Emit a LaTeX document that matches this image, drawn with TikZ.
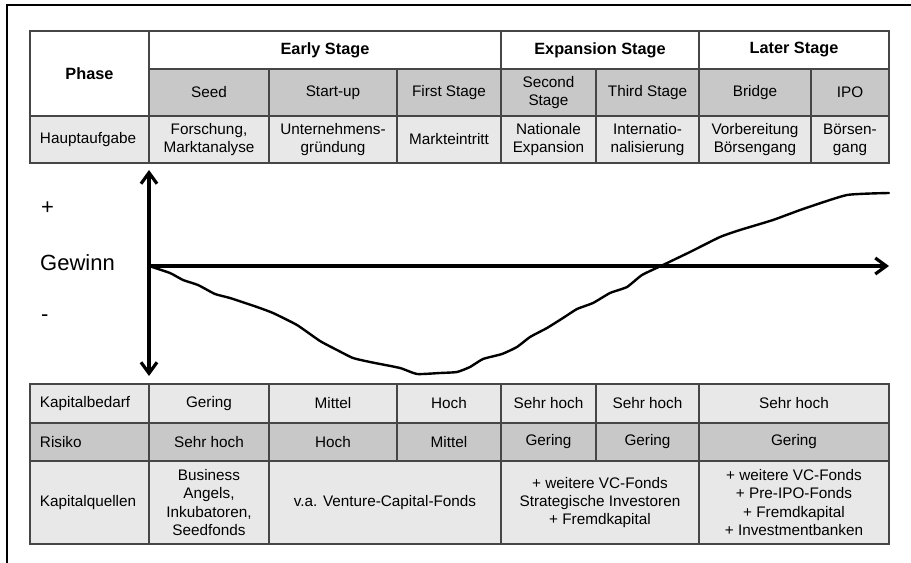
\documentclass[tikz,border=0pt]{standalone}
\usepackage{fontspec}
\setmainfont{Liberation Sans}
\usetikzlibrary{arrows.meta}
\definecolor{darkrow}{RGB}{200,200,200}
\definecolor{lightrow}{RGB}{232,232,232}
\definecolor{gridline}{RGB}{70,70,70}
\newcommand\tabfont{\fontsize{15.3bp}{18.2bp}\selectfont}
\newcommand\headfont{\fontsize{16.3bp}{19bp}\selectfont\bfseries}
\newcommand\bigfont{\fontsize{22bp}{26bp}\selectfont}
\newcommand\cell[7][]{%
  \node[cellbase,#1,minimum width={(#5-#3)*1bp},minimum height={(#6-#4)*1bp}] (#2) at ({(#3+#5)/2},{(#4+#6)/2}) {#7};}
\tikzset{
  cellbase/.style={draw=gridline, line width=1.1bp, inner sep=0pt, align=center, font=\tabfont, fill=white},
  dk/.style={fill=darkrow},
  lt/.style={fill=lightrow},
  hd/.style={font=\headfont},
  lcell/.style={text width=99bp, inner xsep=10bp, align=left},
  axisline/.style={line width=3.2bp, black},
  curveline/.style={line width=2.4bp, black, line join=round, line cap=round},
  biglabel/.style={font=\bigfont, inner sep=0pt, anchor=west},
  barb/.tip={Straight Barb[length=11bp,width=16bp]}
}
\begin{document}
\begin{tikzpicture}[x=1bp,y=-1bp]
\useasboundingbox[fill=white] (0,0) rectangle (911,563);
% partial frame
\draw[line width=1.3bp] (7,563) -- (7,5) -- (911,5);
% ---- top table ----
\cell[hd]{phase}{30}{31}{149}{116}{Phase}
\cell[hd]{early}{149}{31}{501}{69}{Early Stage}
\cell[hd]{expansion}{501}{31}{699}{69}{Expansion Stage}
\cell[hd]{later}{699}{31}{889}{69}{Later Stage}
\cell[dk]{seed}{149}{69}{269}{116}{Seed}
\cell[dk]{startup}{269}{69}{397}{116}{Start-up}
\cell[dk]{first}{397}{69}{501}{116}{First Stage}
\cell[dk]{second}{501}{69}{596}{116}{Second\\Stage}
\cell[dk]{third}{596}{69}{699}{116}{Third Stage}
\cell[dk]{bridge}{699}{69}{811}{116}{Bridge}
\cell[dk]{ipo}{811}{69}{889}{116}{IPO}
\cell[lt,lcell]{haupt}{30}{116}{149}{163}{Hauptaufgabe}
\cell[lt]{h1}{149}{116}{269}{163}{Forschung,\\Marktanalyse}
\cell[lt]{h2}{269}{116}{397}{163}{Unternehmens-\\gründung}
\cell[lt]{h3}{397}{116}{501}{163}{Markteintritt}
\cell[lt]{h4}{501}{116}{596}{163}{Nationale\\Expansion}
\cell[lt]{h5}{596}{116}{699}{163}{Internatio-\\nalisierung}
\cell[lt]{h6}{699}{116}{811}{163}{Vorbereitung\\Börsengang}
\cell[lt]{h7}{811}{116}{889}{163}{Börsen-\\gang}
% ---- bottom table ----
\cell[lt,lcell]{kb}{30}{384}{149}{423}{Kapitalbedarf}
\cell[lt]{kb1}{149}{384}{269}{423}{Gering}
\cell[lt]{kb2}{269}{384}{397}{423}{Mittel}
\cell[lt]{kb3}{397}{384}{501}{423}{Hoch}
\cell[lt]{kb4}{501}{384}{596}{423}{Sehr hoch}
\cell[lt]{kb5}{596}{384}{699}{423}{Sehr hoch}
\cell[lt]{kb6}{699}{384}{889}{423}{Sehr hoch}
\cell[dk,lcell]{ri}{30}{423}{149}{461}{Risiko}
\cell[dk]{ri1}{149}{423}{269}{461}{Sehr hoch}
\cell[dk]{ri2}{269}{423}{397}{461}{Hoch}
\cell[dk]{ri3}{397}{423}{501}{461}{Mittel}
\cell[dk]{ri4}{501}{423}{596}{461}{Gering}
\cell[dk]{ri5}{596}{423}{699}{461}{Gering}
\cell[dk]{ri6}{699}{423}{889}{461}{Gering}
\cell[lt,lcell]{kq}{30}{461}{149}{544}{Kapitalquellen}
\cell[lt]{kq1}{149}{461}{269}{544}{Business\\Angels,\\Inkubatoren,\\Seedfonds}
\cell[lt]{kq2}{269}{461}{501}{544}{v.a. Venture-Capital-Fonds}
\cell[lt]{kq3}{501}{461}{699}{544}{+ weitere VC-Fonds\\Strategische Investoren\\+ Fremdkapital}
\cell[lt]{kq4}{699}{461}{889}{544}{+ weitere VC-Fonds\\+ Pre-IPO-Fonds\\+ Fremdkapital\\+ Investmentbanken}
% ---- chart ----
\node[biglabel] (plus) at (41,208) {+};
\node[biglabel] (gewinn) at (40,263) {Gewinn};
\node[biglabel] (minus) at (41,318) {-};
\coordinate (vtop) at (149,170);
\coordinate (vbot) at (149,376);
\coordinate (origin) at (149,266);
\coordinate (xend) at (889,266);
\draw[axisline,barb-barb] (vbot) -- (vtop);
\draw[axisline,-barb] (origin) -- (xend);
\draw[curveline] plot[smooth, tension=0.3] coordinates {
 (149,266) (170,273) (183,280) (198,285) (215,294) (230,298) (257,307)
 (273,313) (297,325) (320,341) (337,350) (353,358) (370,362) (400,368)
 (417,374) (440,373) (457,372) (470,367) (483,359) (502,354) (517,347)
 (530,337) (547,328) (563,318) (577,309) (593,303) (610,293) (627,287)
 (642,275) (663,265) (690,252) (720,237) (740,230) (773,220) (803,209)
 (847,195) (889,193)};
\end{tikzpicture}
\end{document}
